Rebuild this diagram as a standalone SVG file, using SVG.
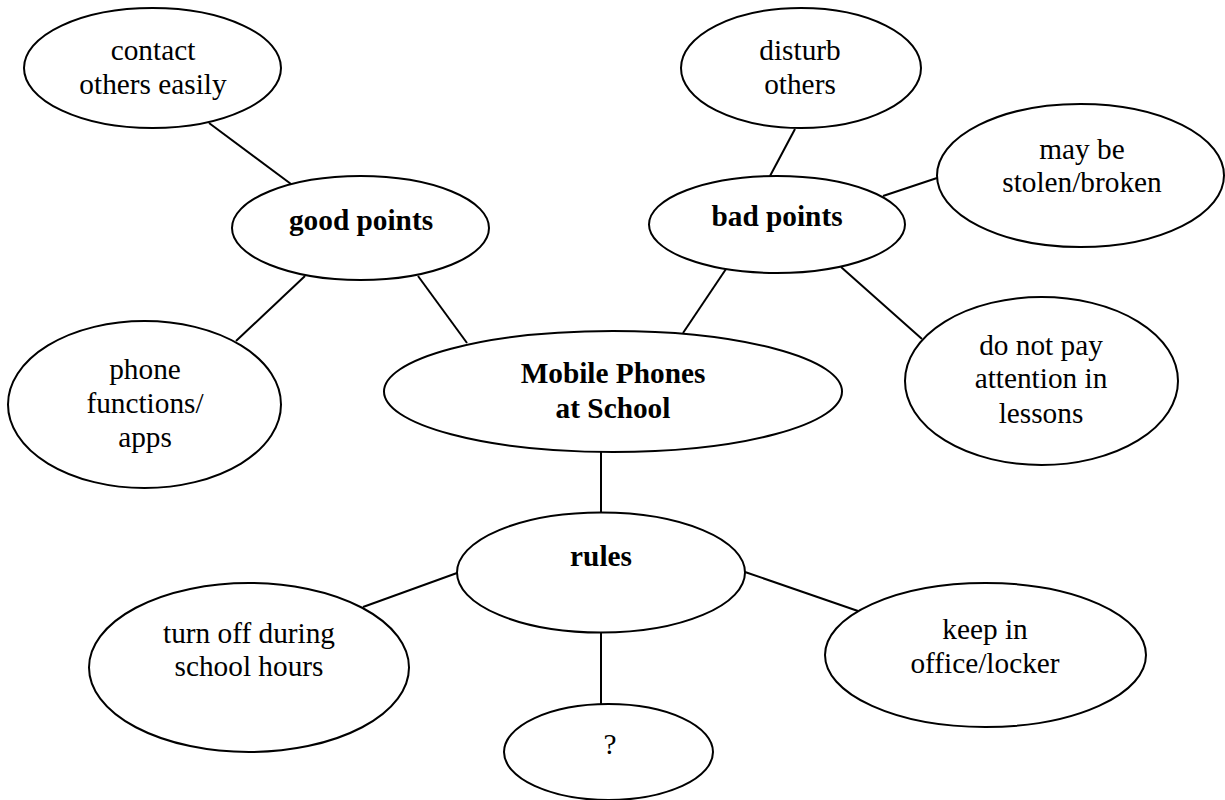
<svg xmlns="http://www.w3.org/2000/svg" width="1225" height="800" viewBox="0 0 1225 800">
<style>
.n{fill:#fff;stroke:#000;stroke-width:2}
.t{font-family:"Liberation Serif","Times New Roman",serif;font-size:29.3px;fill:#000;text-anchor:middle}
.b{font-weight:bold}
.c line{stroke:#000;stroke-width:2}
</style>
<rect width="1225" height="800" fill="#fff"/>
<g id="connectors" class="c">
<line x1="209" y1="123" x2="291" y2="184"/>
<line x1="305" y1="276" x2="236" y2="341"/>
<line x1="418" y1="276" x2="467" y2="343"/>
<line x1="795" y1="129" x2="770" y2="176"/>
<line x1="883" y1="196" x2="937" y2="178"/>
<line x1="726" y1="269" x2="683" y2="333"/>
<line x1="841" y1="267" x2="922" y2="339"/>
<line x1="601" y1="452" x2="601" y2="513"/>
<line x1="457" y1="573" x2="363" y2="607"/>
<line x1="745" y1="572" x2="858" y2="611"/>
<line x1="601" y1="632" x2="601" y2="704"/>
</g>
<g id="contact"><ellipse class="n" cx="152.5" cy="68" rx="128.5" ry="60"/><text class="t" x="153" y="60">contact</text><text class="t" x="153" y="94">others easily</text></g>
<g id="good"><ellipse class="n" cx="360.5" cy="228" rx="128.5" ry="52"/><text class="t b" x="361" y="230">good points</text></g>
<g id="phone"><ellipse class="n" cx="144.5" cy="404.5" rx="136.5" ry="83.5"/><text class="t" x="145" y="379">phone</text><text class="t" x="145" y="413">functions/</text><text class="t" x="145" y="447">apps</text></g>
<g id="center"><ellipse class="n" cx="613" cy="391.5" rx="229" ry="60.5"/><text class="t b" x="613" y="383">Mobile Phones</text><text class="t b" x="613" y="418">at School</text></g>
<g id="disturb"><ellipse class="n" cx="801" cy="68" rx="120" ry="60"/><text class="t" x="800" y="60">disturb</text><text class="t" x="800" y="94">others</text></g>
<g id="bad"><ellipse class="n" cx="777" cy="224.5" rx="128" ry="48.5"/><text class="t b" x="777" y="226">bad points</text></g>
<g id="stolen"><ellipse class="n" cx="1080.5" cy="175.5" rx="143.5" ry="71.5"/><text class="t" x="1082" y="159">may be</text><text class="t" x="1082" y="192">stolen/broken</text></g>
<g id="attention"><ellipse class="n" cx="1041.5" cy="381" rx="136.5" ry="84"/><text class="t" x="1041" y="355">do not pay</text><text class="t" x="1041" y="388">attention in</text><text class="t" x="1041" y="423">lessons</text></g>
<g id="rules"><ellipse class="n" cx="601" cy="572.5" rx="144" ry="60"/><text class="t b" x="601" y="566">rules</text></g>
<g id="turnoff"><ellipse class="n" cx="249" cy="667.5" rx="160" ry="84.5"/><text class="t" x="249" y="643">turn off during</text><text class="t" x="249" y="676">school hours</text></g>
<g id="keep"><ellipse class="n" cx="985.5" cy="655" rx="160.5" ry="72"/><text class="t" x="985" y="639">keep in</text><text class="t" x="985" y="673">office/locker</text></g>
<g id="question"><ellipse class="n" cx="608.5" cy="752" rx="104.5" ry="48"/><text class="t" x="610" y="754">?</text></g>
</svg>
